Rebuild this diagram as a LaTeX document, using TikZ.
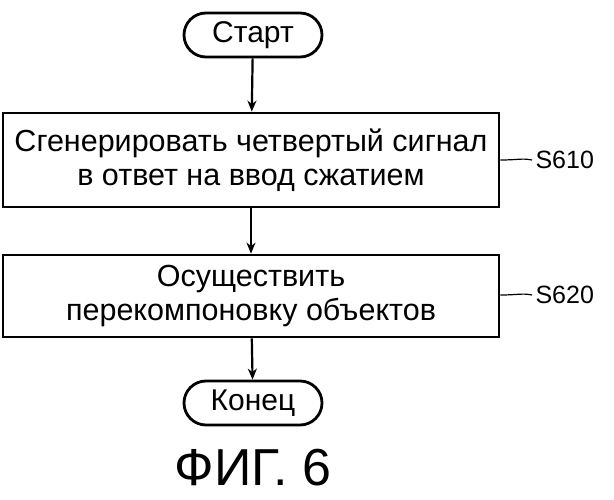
\documentclass[tikz,border=0pt]{standalone}
\usepackage{fontspec}
\setmainfont{Liberation Sans}
\usetikzlibrary{arrows.meta}
\begin{document}
\begin{tikzpicture}[x=1pt,y=-1pt,
  term/.style={draw,line width=2.8pt,rounded corners=22pt,minimum width=138pt,minimum height=44pt,inner sep=0pt,font=\fontsize{30}{32}\selectfont},
  proc/.style={draw,line width=2.8pt,minimum width=496pt,inner sep=0pt,font=\fontsize{30.5}{34}\selectfont,align=center},
  arr/.style={line width=2.2pt,-{Stealth[length=11pt,width=9pt]}},
  lab/.style={font=\fontsize{25}{28}\selectfont}]
\useasboundingbox (0,0) rectangle (614,500);
\node[term] (start) at (253,35) {Старт};
\node[proc,minimum height=94pt] (s1) at (251,160) {Сгенерировать четвертый сигнал\\в ответ на ввод сжатием};
\node[proc,minimum height=82pt] (s2) at (251,296) {Осуществить\\перекомпоновку объектов};
\node[term] (end) at (253,403) {Конец};
\node[lab,anchor=west] (l1) at (532,160) {S610};
\node[lab,anchor=west] (l2) at (532,295) {S620};
\node[font=\fontsize{52}{56}\selectfont] (fig) at (253,468) {ФИГ. 6};
\draw[arr] (start) -- (s1);
\draw[arr] (s1) -- (s2);
\draw[arr] (s2) -- (end);
\draw[line width=1.2pt] (s1.east|-l1.west) .. controls (518,160) and (522,158) .. (l1.west);
\draw[line width=1.2pt] (s2.east|-l2.west) .. controls (518,295) and (522,293) .. (l2.west);
\end{tikzpicture}
\end{document}
